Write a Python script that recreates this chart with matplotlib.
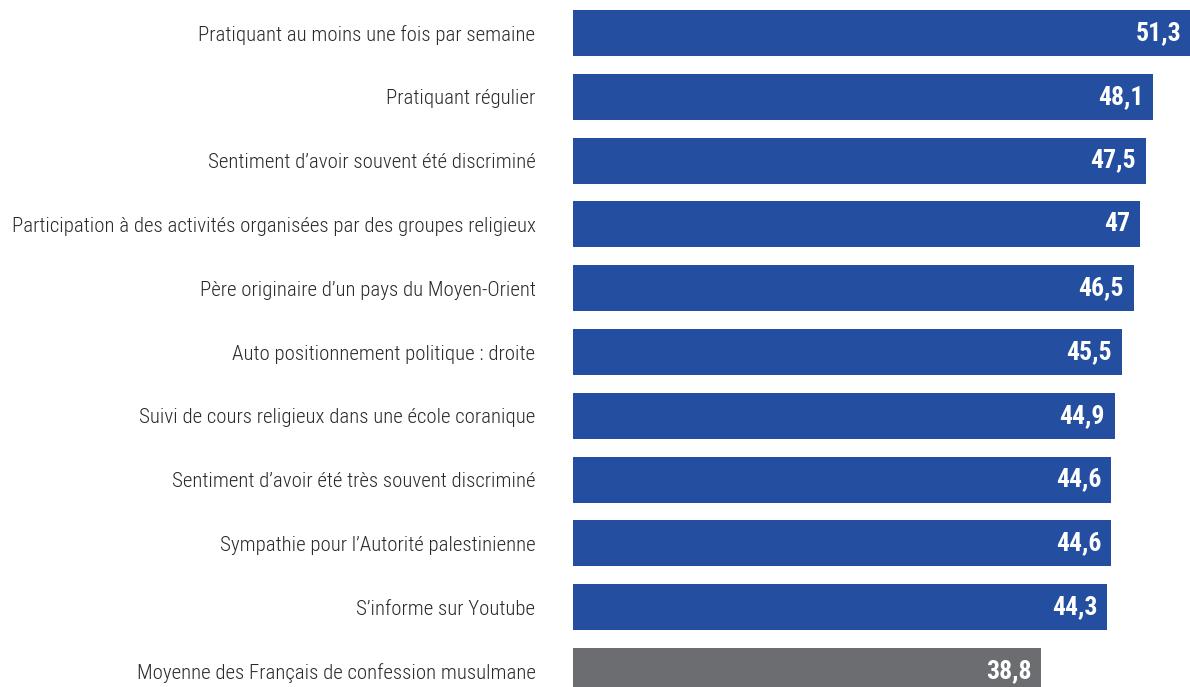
import matplotlib.pyplot as plt

# categories (top to bottom) and values
labels = [
    "Pratiquant au moins une fois par semaine",
    "Pratiquant régulier",
    "Sentiment d\u2019avoir souvent été discriminé",
    "Participation à des activités organisées par des groupes religieux",
    "Père originaire d\u2019un pays du Moyen-Orient",
    "Auto positionnement politique : droite",
    "Suivi de cours religieux dans une école coranique",
    "Sentiment d\u2019avoir été très souvent discriminé",
    "Sympathie pour l\u2019Autorité palestinienne",
    "S\u2019informe sur Youtube",
    "Moyenne des Français de confession musulmane",
]
values = [51.3, 48.1, 47.5, 47, 46.5, 45.5, 44.9, 44.6, 44.6, 44.3, 38.8]
value_text = ["51,3", "48,1", "47,5", "47", "46,5", "45,5", "44,9", "44,6", "44,6", "44,3", "38,8"]

blue = "#244fa1"
grey = "#6c6d71"
colors = [blue] * 10 + [grey]

plt.rcParams['font.family'] = ['Roboto Condensed', 'Archivo Narrow', 'DejaVu Sans']

fig = plt.figure(figsize=(11.9, 6.87), dpi=100)
ax = fig.add_axes([573 / 1190, 0, 1 - 573 / 1190, 1])

ypos = list(range(len(values)))
ax.barh(ypos, values, height=0.72, color=colors)

ax.set_xlim(0, 51.16)
ax.set_ylim(10.25, -0.517)

ax.set_yticks(ypos)
ax.set_yticklabels(labels, fontsize=15, color="#2a2a2a", fontweight='light')
ax.tick_params(axis='y', length=0, pad=27)
ax.set_xticks([])
for s in ax.spines.values():
    s.set_visible(False)

for y, v, t in zip(ypos, values, value_text):
    ax.annotate(t, xy=(v, y), xytext=(-7, 0), textcoords='offset points',
                ha='right', va='center', color='white', fontsize=18.5,
                fontweight='bold', annotation_clip=False)

fig.savefig("out.png", dpi=100)
